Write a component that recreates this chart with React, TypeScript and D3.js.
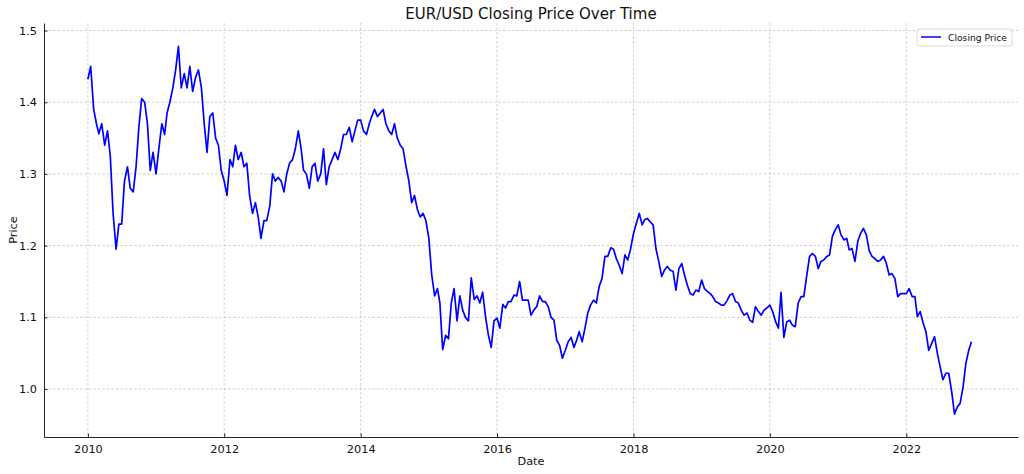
import * as d3 from 'd3';
import { useEffect, useRef } from 'react';

const y2010 = [1.432, 1.45, 1.39, 1.37, 1.356, 1.37, 1.34, 1.36, 1.325, 1.245, 1.195, 1.23, 1.23, 1.29, 1.31, 1.28, 1.275, 1.31, 1.365, 1.405, 1.4, 1.37, 1.305, 1.33];
const y2011 = [1.3, 1.335, 1.37, 1.355, 1.385, 1.4, 1.42, 1.445, 1.478, 1.42, 1.44, 1.42, 1.45, 1.415, 1.435, 1.445, 1.42, 1.37, 1.33, 1.38, 1.385, 1.35, 1.34, 1.305];
const y2012 = [1.29, 1.27, 1.32, 1.31, 1.34, 1.32, 1.33, 1.31, 1.315, 1.27, 1.245, 1.26, 1.24, 1.21, 1.235, 1.235, 1.255, 1.3, 1.29, 1.295, 1.29, 1.275, 1.3, 1.315];
const y2013 = [1.32, 1.335, 1.36, 1.335, 1.305, 1.3, 1.28, 1.31, 1.315, 1.29, 1.3, 1.335, 1.285, 1.31, 1.32, 1.33, 1.32, 1.335, 1.355, 1.355, 1.365, 1.345, 1.36, 1.375];
const y2014 = [1.375, 1.36, 1.355, 1.37, 1.38, 1.39, 1.38, 1.385, 1.39, 1.37, 1.36, 1.355, 1.37, 1.35, 1.34, 1.335, 1.31, 1.29, 1.26, 1.27, 1.25, 1.24, 1.245, 1.235];
const y2015 = [1.21, 1.16, 1.13, 1.14, 1.12, 1.055, 1.075, 1.07, 1.12, 1.14, 1.095, 1.13, 1.11, 1.1, 1.095, 1.155, 1.125, 1.13, 1.12, 1.135, 1.1, 1.075, 1.058, 1.095];
const y2016 = [1.099, 1.085, 1.118, 1.113, 1.122, 1.122, 1.131, 1.13, 1.15, 1.124, 1.124, 1.124, 1.103, 1.11, 1.115, 1.13, 1.122, 1.122, 1.115, 1.1, 1.096, 1.068, 1.061, 1.043];
const y2017 = [1.054, 1.066, 1.072, 1.058, 1.067, 1.08, 1.066, 1.085, 1.106, 1.117, 1.124, 1.12, 1.143, 1.154, 1.185, 1.185, 1.197, 1.195, 1.182, 1.173, 1.161, 1.187, 1.18, 1.195];
const y2018 = [1.217, 1.231, 1.245, 1.229, 1.236, 1.238, 1.233, 1.229, 1.196, 1.178, 1.157, 1.166, 1.171, 1.166, 1.164, 1.138, 1.168, 1.175, 1.159, 1.145, 1.133, 1.131, 1.138, 1.136];
const y2019 = [1.152, 1.14, 1.136, 1.133, 1.129, 1.122, 1.12, 1.117, 1.117, 1.123, 1.131, 1.133, 1.122, 1.12, 1.11, 1.103, 1.106, 1.096, 1.093, 1.115, 1.108, 1.103, 1.11, 1.113];
const y2020 = [1.117, 1.108, 1.094, 1.085, 1.135, 1.072, 1.094, 1.096, 1.089, 1.087, 1.12, 1.129, 1.129, 1.157, 1.185, 1.189, 1.185, 1.168, 1.178, 1.18, 1.185, 1.187, 1.213, 1.222];
const y2021 = [1.229, 1.215, 1.208, 1.21, 1.194, 1.196, 1.178, 1.206, 1.217, 1.224, 1.215, 1.193, 1.185, 1.182, 1.178, 1.18, 1.185, 1.175, 1.159, 1.161, 1.154, 1.129, 1.133, 1.133];
const y2022 = [1.133, 1.14, 1.129, 1.129, 1.101, 1.108, 1.092, 1.08, 1.054, 1.063, 1.073, 1.05, 1.031, 1.013, 1.022, 1.022, 0.996, 0.965, 0.975, 0.98, 1.003, 1.036, 1.054, 1.066];

const years = [2010, 2011, 2012, 2013, 2014, 2015, 2016, 2017, 2018, 2019, 2020, 2021, 2022];
const closes = [y2010, y2011, y2012, y2013, y2014, y2015, y2016, y2017, y2018, y2019, y2020, y2021, y2022];

const xTicks = [2010, 2012, 2014, 2016, 2018, 2020, 2022];
const yTicks = [1.0, 1.1, 1.2, 1.3, 1.4, 1.5];

const data = years.flatMap((yr, k) =>
  closes[k].map((v, i) => ({ date: new Date(yr, Math.floor(i / 2), i % 2 ? 16 : 1), value: v })),
);

const width = 1024;
const height = 474;
const margin = { top: 23, right: 6, bottom: 37, left: 44 };
const font = 'DejaVu Sans, sans-serif';

const App = () => {
  const ref = useRef(null);

  useEffect(() => {
    const x = d3
      .scaleTime()
      .domain([new Date(2009, 4, 11), new Date(2023, 7, 22)])
      .range([margin.left, width - margin.right]);

    const y = d3
      .scaleLinear()
      .domain([0.9331, 1.5105])
      .range([height - margin.bottom, margin.top]);

    const svg = d3.select(ref.current);
    svg.selectAll('*').remove();

    const tickDates = xTicks.map((t) => new Date(t, 0, 1));

    // grid
    const grid = svg.append('g').attr('stroke', '#b0b0b0').attr('stroke-opacity', 0.75)
      .attr('stroke-width', 0.8).attr('stroke-dasharray', '2.5,2');
    grid.selectAll('.gx').data(tickDates).join('line')
      .attr('x1', (d) => x(d)).attr('x2', (d) => x(d))
      .attr('y1', margin.top).attr('y2', height - margin.bottom);
    grid.selectAll('.gy').data(yTicks).join('line')
      .attr('x1', margin.left).attr('x2', width - margin.right)
      .attr('y1', (d) => y(d)).attr('y2', (d) => y(d));

    const xAxis = (g) =>
      g.attr('transform', `translate(0,${height - margin.bottom})`).call(
        d3.axisBottom(x).tickValues(tickDates).tickFormat(d3.timeFormat('%Y'))
          .tickSizeInner(-3.5).tickSizeOuter(0).tickPadding(8),
      );

    const yAxis = (g) =>
      g.attr('transform', `translate(${margin.left},0)`).call(
        d3.axisLeft(y).tickValues(yTicks).tickFormat(d3.format('.1f'))
          .tickSizeInner(-3.5).tickSizeOuter(0).tickPadding(7),
      );

    const styleAxis = (g) => {
      g.select('.domain').attr('stroke', '#222').attr('stroke-width', 1);
      g.selectAll('.tick line').attr('stroke', '#222');
      g.selectAll('.tick text').attr('fill', '#111').attr('font-size', 11.3).attr('font-family', font);
    };

    svg.append('g').call(xAxis).call(styleAxis);
    svg.append('g').call(yAxis).call(styleAxis);

    const line = d3
      .line()
      .x((d) => x(d.date))
      .y((d) => y(d.value));

    svg.append('path')
      .datum(data)
      .attr('fill', 'none')
      .attr('stroke', '#0000ff')
      .attr('stroke-width', 1.7)
      .attr('stroke-linejoin', 'round')
      .attr('d', line);

    // title and labels
    svg.append('text')
      .attr('x', (margin.left + width - margin.right) / 2).attr('y', 19)
      .attr('text-anchor', 'middle').attr('font-family', font).attr('font-size', 15)
      .attr('fill', '#111').text('EUR/USD Closing Price Over Time');

    svg.append('text')
      .attr('x', (margin.left + width - margin.right) / 2).attr('y', 465)
      .attr('text-anchor', 'middle').attr('font-family', font).attr('font-size', 11.3)
      .attr('fill', '#111').text('Date');

    svg.append('text')
      .attr('transform', `translate(17,${(margin.top + height - margin.bottom) / 2}) rotate(-90)`)
      .attr('text-anchor', 'middle').attr('font-family', font).attr('font-size', 11.3)
      .attr('fill', '#111').text('Price');

    // legend
    const lg = svg.append('g').attr('transform', 'translate(917,29)');
    lg.append('rect').attr('width', 95).attr('height', 17).attr('rx', 2)
      .attr('fill', 'white').attr('fill-opacity', 0.8).attr('stroke', '#d0d0d0').attr('stroke-width', 0.8);
    lg.append('line').attr('x1', 4).attr('x2', 24).attr('y1', 8).attr('y2', 8)
      .attr('stroke', '#0000ff').attr('stroke-width', 1.5);
    lg.append('text').attr('x', 31).attr('y', 11.5).attr('font-family', font).attr('font-size', 9.2)
      .attr('fill', '#111').text('Closing Price');
  }, []);

  return (
    <svg
      ref={ref}
      width={width}
      height={height}
      style={{ position: 'absolute', left: 0, top: 0, background: 'white' }}
    />
  );
};

export default App;
